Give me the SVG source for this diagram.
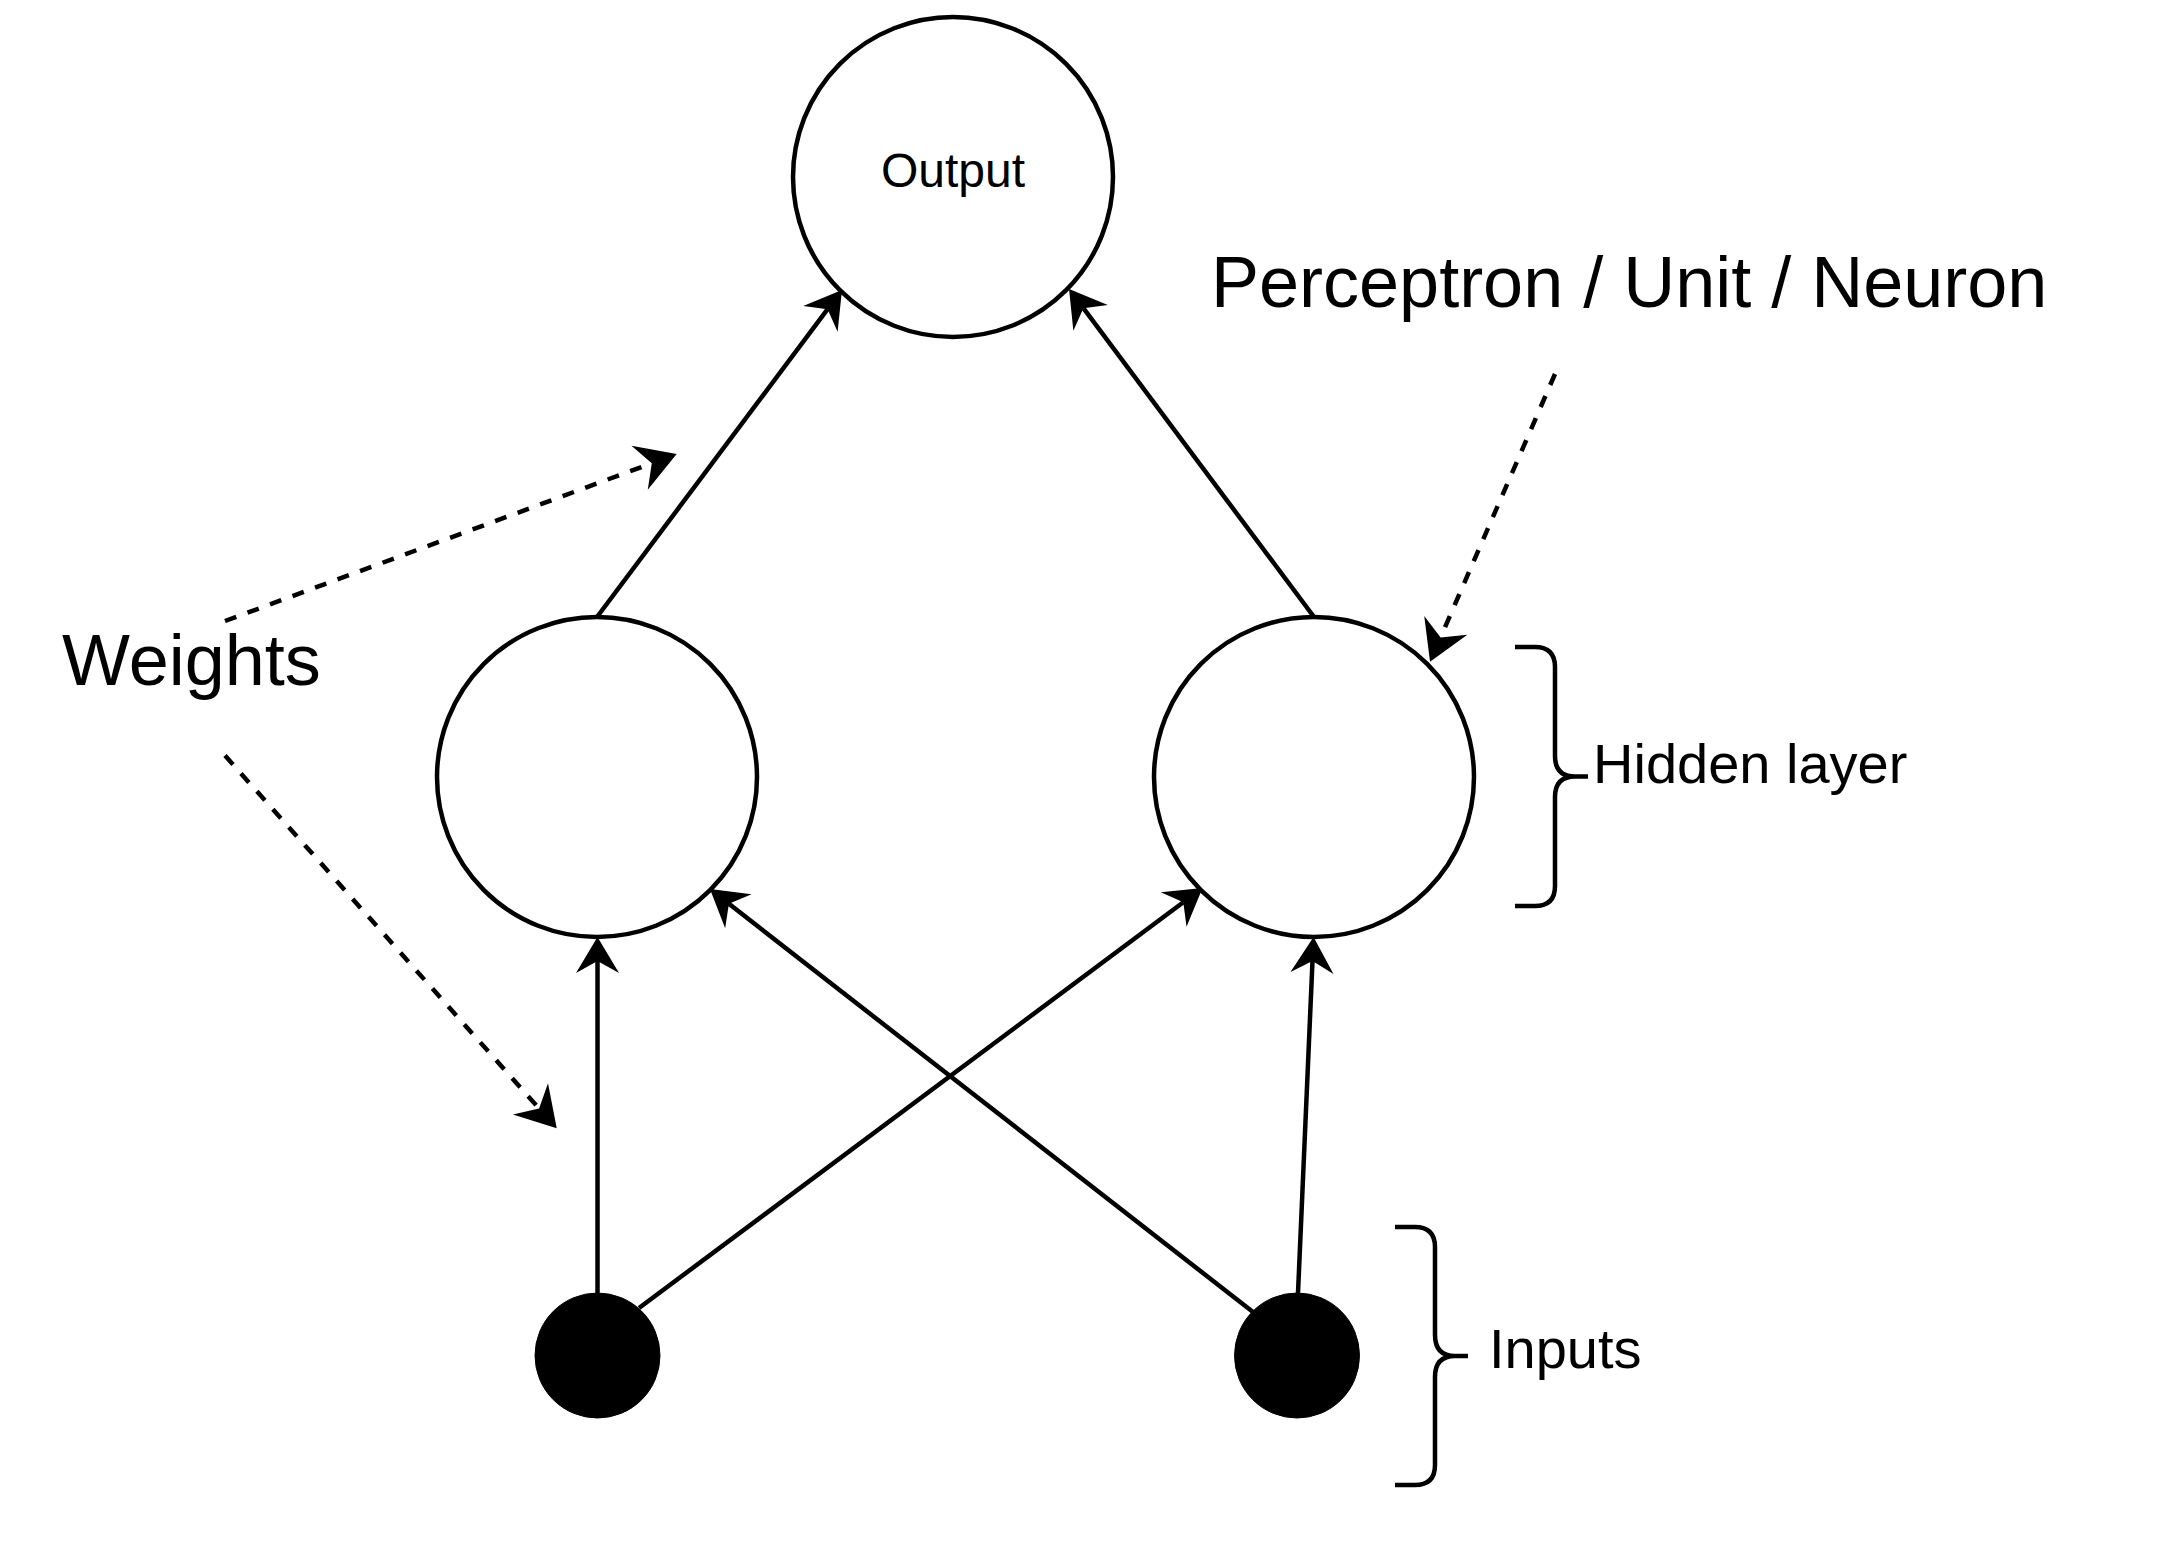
<svg xmlns="http://www.w3.org/2000/svg" width="2182" height="1541" viewBox="0 0 2182 1541">
  <style>
    .node { fill: #ffffff; stroke: #000000; stroke-width: 4.5; }
    .input { fill: #000000; stroke: #000000; stroke-width: 1; }
    .edge { fill: none; stroke: #000000; stroke-width: 4.5; }
    .dashed { fill: none; stroke: #000000; stroke-width: 4.5; stroke-dasharray: 12 12; }
    .brace { fill: none; stroke: #000000; stroke-width: 4.5; }
    .label { font-family: "Liberation Sans", Arial, Helvetica, sans-serif; fill: #000000; }
  </style>
  <defs>
    <marker id="arrow" markerUnits="userSpaceOnUse" markerWidth="80" markerHeight="80" viewBox="-40 -40 80 80" refX="0" refY="0" orient="auto">
      <path d="M24,0 L-12,-21.5 L0,0 L-12,21.5 Z" fill="#000000"/>
    </marker>
    <marker id="arrowDash" markerUnits="userSpaceOnUse" markerWidth="80" markerHeight="80" viewBox="-40 -40 80 80" refX="0" refY="0" orient="auto">
      <path d="M26.5,0 L-13,-23.5 L0,0 L-13,23.5 Z" fill="#000000"/>
    </marker>
  </defs>
  <rect x="0" y="0" width="2182" height="1541" fill="#ffffff"/>

  <g id="connectors">
    <line class="edge" x1="597.5" y1="1293" x2="597.5" y2="961" marker-end="url(#arrow)"/>
    <line class="edge" x1="639" y1="1308" x2="1183.3" y2="902.3" marker-end="url(#arrow)"/>
    <line class="edge" x1="1253" y1="1312" x2="728.9" y2="903.8" marker-end="url(#arrow)"/>
    <line class="edge" x1="1298" y1="1293" x2="1312.5" y2="961" marker-end="url(#arrow)"/>
    <line class="edge" x1="597" y1="617" x2="827.6" y2="309.2" marker-end="url(#arrow)"/>
    <line class="edge" x1="1314" y1="617" x2="1083.4" y2="308.2" marker-end="url(#arrow)"/>
    <line class="dashed" x1="225" y1="621" x2="651.8" y2="463.2" marker-end="url(#arrowDash)"/>
    <line class="dashed" x1="225" y1="755.5" x2="539.1" y2="1108.5" marker-end="url(#arrowDash)"/>
    <line class="dashed" x1="1555" y1="374" x2="1440.6" y2="637.4" marker-end="url(#arrowDash)"/>
  </g>

  <g id="output">
    <circle class="node" cx="953" cy="177" r="160"/>
    <text class="label" x="953" y="187" font-size="48" text-anchor="middle">Output</text>
  </g>
  <g id="hidden-left">
    <circle class="node" cx="597" cy="777" r="160"/>
  </g>
  <g id="hidden-right">
    <circle class="node" cx="1314" cy="777" r="160"/>
  </g>
  <g id="input-left">
    <circle class="input" cx="597.5" cy="1355.5" r="62.5"/>
  </g>
  <g id="input-right">
    <circle class="input" cx="1297" cy="1355.5" r="62.5"/>
  </g>

  <g id="hidden-layer-brace">
    <path class="brace" d="M1515,647 L1535,647 Q1555,647 1555,667 L1555,756 Q1555,776.5 1575,776.5 L1588,776.5 M1575,776.5 Q1555,776.5 1555,797 L1555,886 Q1555,906 1535,906 L1515,906"/>
    <text class="label" x="1593" y="783" font-size="56">Hidden layer</text>
  </g>
  <g id="inputs-brace">
    <path class="brace" d="M1395,1227 L1415,1227 Q1435,1227 1435,1247 L1435,1335 Q1435,1356 1455,1356 L1468,1356 M1455,1356 Q1435,1356 1435,1377 L1435,1465 Q1435,1485 1415,1485 L1395,1485"/>
    <text class="label" x="1489" y="1368" font-size="56">Inputs</text>
  </g>

  <g id="weights-label">
    <text class="label" x="62" y="685" font-size="72">Weights</text>
  </g>
  <g id="perceptron-label">
    <text class="label" x="1211" y="307" font-size="72">Perceptron / Unit / Neuron</text>
  </g>
</svg>
